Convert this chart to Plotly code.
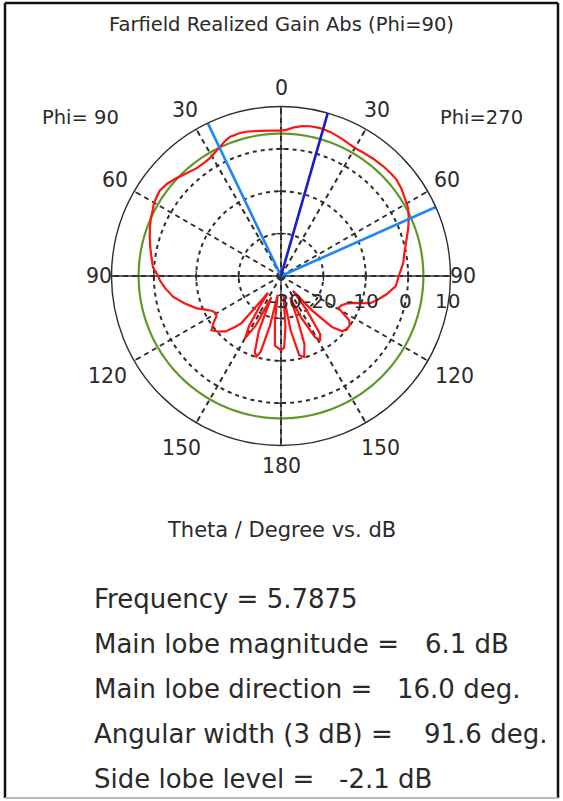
import numpy as np
import plotly.graph_objects as go

# ---- Farfield cut, Phi = 90 / 270 (theta measured clockwise from top, + side = Phi=270) ----
theta_deg = [
    -180, -177.5, -175, -172.5, -170, -167.5, -165, -163, -161, -158, -155.5, -153,
    -150, -147.5, -145, -142.5, -140, -138, -135, -131.5, -128, -125, -122, -120,
    -117, -114, -111, -106, -101, -96, -92, -90, -86, -81, -77, -73, -69, -66, -63,
    -60, -55, -51, -47, -43, -38, -34, -31, -28, -25, -22, -20, -16, -13, -8, -4,
    0, 2, 5, 8, 11, 14, 16, 19, 22, 25, 28, 31, 34, 38, 43, 47, 50, 54, 58, 62, 66,
    70, 74, 79, 84, 90, 95, 100, 104, 107, 110, 113, 116, 119, 121, 123, 126, 129,
    132, 135, 138, 141, 143, 146, 148.5, 151, 154, 157, 159, 161, 164, 167, 170,
    172.5, 175, 177.5, 180,
]
gain_db = [
    -12.5, -13.0, -13.5, -19.0, -25.5, -18.0, -11.5, -10.1, -11.0, -16.0, -24.5, -17.0,
    -13.0, -16.0, -21.0, -25.0, -15.5, -13.8, -11.5, -10.2, -9.2, -10.5, -12.0, -12.4,
    -11.8, -10.5, -8.7, -6.4, -4.1, -2.5, -1.4, -1.0, 0.3, 1.0, 1.7, 2.4, 3.1, 3.6, 4.0,
    4.6, 5.0, 4.6, 3.8, 3.0, 2.3, 2.3, 2.5, 3.1, 3.8, 4.6, 5.0, 5.1, 5.0, 4.6, 4.4,
    4.3, 4.5, 5.2, 5.7, 6.0, 6.08, 6.1, 5.9, 5.6, 5.3, 5.0, 4.9, 5.0, 5.2, 5.4, 5.5,
    5.5, 5.1, 4.5, 4.0, 3.0, 1.9, 0.8, -0.3, -1.0, -2.2, -2.8, -4.8, -6.6, -8.0,
    -11.5, -13.3, -14.2, -14.5, -13.0, -10.8, -10.0, -10.1, -10.5, -13.0, -19.0,
    -25.5, -20.0, -13.5, -12.3, -13.5, -19.0, -24.5, -19.5, -13.0, -10.1, -10.8,
    -17.0, -25.5, -18.0, -13.0, -12.5,
]

frequency = "5.7875"
main_lobe_db = 6.1
main_lobe_dir = 16.0
beam_edges = [-25.6, 66.0]          # 3 dB beam edges, width 91.6 deg
side_lobe_db = -2.1
reference_circle_db = 3.6

r_min, r_max = -30, 10
ring_values = [-30, -20, -10, 0, 10]
angle_labels = [0, 30, 60, 90, 120, 150, 180, 150, 120, 90, 60, 30]
angle_positions = [0, 30, 60, 90, 120, 150, 180, 210, 240, 270, 300, 330]

W, H = 563, 801
CX, CY, R = 281.0, 276.0, 169.5      # polar centre / radius in page pixels
FONT = "DejaVu Sans, Verdana, sans-serif"
INK = "#2a2a2a"
GRID = "#2e2e2e"


def px(x, y):
    return x / W, 1 - y / H


fig = go.Figure()

# reference circle
circ = np.linspace(0, 360, 361)
fig.add_trace(go.Scatterpolar(r=[reference_circle_db] * len(circ), theta=circ, mode="lines",
                              line=dict(color="#5f9a28", width=2.2), hoverinfo="skip"))

# crosshair through the centre
fig.add_trace(go.Scatterpolar(r=[r_max, r_min, r_max], theta=[0, 0, 180], mode="lines",
                              line=dict(color=GRID, width=1.4), hoverinfo="skip"))
fig.add_trace(go.Scatterpolar(r=[r_max, r_min, r_max], theta=[90, 90, 270], mode="lines",
                              line=dict(color=GRID, width=1.4), hoverinfo="skip"))
tick_r = [v for v in ring_values if r_min < v < r_max]
fig.add_trace(go.Scatterpolar(r=tick_r * 2, theta=[0] * len(tick_r) + [180] * len(tick_r),
                              mode="markers", hoverinfo="skip",
                              marker=dict(symbol="line-ew", size=7,
                                          line=dict(color=GRID, width=1.3))))
fig.add_trace(go.Scatterpolar(r=tick_r * 2, theta=[90] * len(tick_r) + [270] * len(tick_r),
                              mode="markers", hoverinfo="skip",
                              marker=dict(symbol="line-ns", size=7,
                                          line=dict(color=GRID, width=1.3))))

# pattern
fig.add_trace(go.Scatterpolar(r=gain_db, theta=theta_deg, mode="lines",
                              line=dict(color="#ff1414", width=2.2), hoverinfo="skip"))

# beam-width and main-lobe direction lines
for edge in beam_edges:
    fig.add_trace(go.Scatterpolar(r=[r_min, r_max], theta=[edge, edge], mode="lines",
                                  line=dict(color="#1e88f0", width=2.6), hoverinfo="skip"))
fig.add_trace(go.Scatterpolar(r=[r_min, r_max], theta=[main_lobe_dir, main_lobe_dir],
                              mode="lines", line=dict(color="#1a1ad0", width=2.6),
                              hoverinfo="skip"))

x0, y0 = px(CX - R, CY + R)
x1, y1 = px(CX + R, CY - R)

fig.update_layout(
    width=W, height=H, margin=dict(l=0, r=0, t=0, b=0),
    paper_bgcolor="white", plot_bgcolor="white", showlegend=False,
    font=dict(family=FONT, color=INK),
    polar=dict(
        domain=dict(x=[x0, x1], y=[y0, y1]),
        bgcolor="white",
        angularaxis=dict(rotation=90, direction="clockwise", tickmode="array",
                         tickvals=angle_positions, showticklabels=False,
                         ticks="inside", ticklen=4, tickcolor=GRID,
                         showline=True, linecolor=GRID, linewidth=1.4,
                         showgrid=True, gridcolor=GRID, gridwidth=1.6,
                         griddash="5px,4px"),
        radialaxis=dict(range=[r_min, r_max], tickmode="array",
                        tickvals=[-20, -10, 0], showticklabels=False, ticks="",
                        showline=False, showgrid=True, gridcolor=GRID,
                        gridwidth=1.6, griddash="4px,4px"),
    ),
)

annotations = []


def add_text(text, x, y, size, xanchor="center", yanchor="middle"):
    ax, ay = px(x, y)
    annotations.append(dict(text=text, x=ax, y=ay, xref="paper", yref="paper",
                            xanchor=xanchor, yanchor=yanchor, showarrow=False,
                            font=dict(size=size, color=INK, family=FONT)))


add_text("Farfield Realized Gain Abs (Phi=90)", 281, 25, 19.5)
add_text("Phi= 90", 80, 117, 19.5)
add_text("Phi=270", 481, 117, 19.5)

# angular labels around the outer circle (distance from centre in px per angle)
label_radius = {0: 188, 30: 192, 60: 192, 90: 182, 120: 200, 150: 199, 180: 190}
for lab, ang in zip(angle_labels, angle_positions):
    a = np.deg2rad(ang)
    rl = label_radius[lab]
    add_text(str(lab), CX + rl * np.sin(a), CY - rl * np.cos(a), 20.5)

# radial (dB) labels along the horizontal axis
for v in ring_values:
    rr = (v - r_min) / (r_max - r_min) * R
    xl = CX + 4 if v == r_min else CX + rr - 3
    add_text(str(v), xl, CY + 25, 20)

add_text("Theta / Degree vs. dB", 281, 530, 21)

# summary block
SZ = 26
stats_y = [599, 644, 689, 734, 779]
add_text("Frequency = " + frequency, 92, stats_y[0], SZ, xanchor="left")
add_text("Main lobe magnitude =", 92, stats_y[1], SZ, xanchor="left")
add_text(f"{main_lobe_db:.1f} dB", 423, stats_y[1], SZ, xanchor="left")
add_text("Main lobe direction =", 92, stats_y[2], SZ, xanchor="left")
add_text(f"{main_lobe_dir:.1f} deg.", 395, stats_y[2], SZ, xanchor="left")
add_text("Angular width (3 dB) =", 92, stats_y[3], SZ, xanchor="left")
add_text(f"{beam_edges[1] - beam_edges[0]:.1f} deg.", 422, stats_y[3], SZ, xanchor="left")
add_text("Side lobe level =", 92, stats_y[4], SZ, xanchor="left")
add_text(f"{side_lobe_db:.1f} dB", 337, stats_y[4], SZ, xanchor="left")

fig.update_layout(annotations=annotations)

# window frame
shapes = []
for (xa, ya, xb, yb, col, w) in [(5, 3, 5, 798, "#111111", 2.5),
                                  (5, 3, 558, 3, "#111111", 2.5),
                                  (558, 3, 558, 798, "#111111", 2.5),
                                  (5, 798, 558, 798, "#bbbbbb", 2)]:
    ax0, ay0 = px(xa, ya)
    ax1, ay1 = px(xb, yb)
    shapes.append(dict(type="line", xref="paper", yref="paper", x0=ax0, y0=ay0,
                       x1=ax1, y1=ay1, line=dict(color=col, width=w)))
fig.update_layout(shapes=shapes)

fig.write_html("out.html")
